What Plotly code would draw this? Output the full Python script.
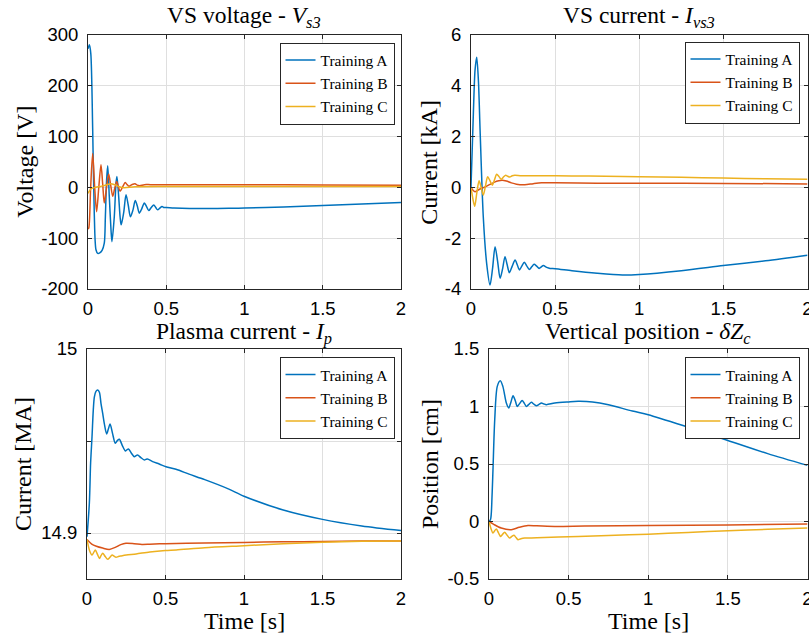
import plotly.graph_objects as go

W, H = 809, 642
C_A, C_B, C_C = "#0072BD", "#D95319", "#EDB120"
SERIF = "Liberation Serif"
SANS = "Liberation Sans"
DARK = "#262626"
GRID = "#dfdfdf"

series_names = ["Training A", "Training B", "Training C"]

# ---------------- VS voltage [V] ----------------
t_volt_A = [0, 0.009, 0.018, 0.03, 0.04, 0.051, 0.062, 0.075, 0.09, 0.104, 0.111, 0.119, 0.126,
            0.136, 0.147, 0.153, 0.168, 0.179, 0.185, 0.196, 0.205, 0.212, 0.228, 0.243, 0.257,
            0.271, 0.287, 0.302, 0.315, 0.328, 0.344, 0.36, 0.374, 0.388, 0.404, 0.42, 0.433,
            0.445, 0.459, 0.473, 0.486, 0.5, 0.55, 0.65, 0.75, 0.9, 1.0, 1.25, 1.5, 1.75, 2.0]
volt_A = [272, 280, 262, 113, -51, -123, -130, -129, -124, -110, -58, 15, 42,
          -18, -84, -107, -58, 8, 21, -18, -58, -74, -50, -15, -35,
          -58, -45, -26, -37, -51, -42, -31, -38, -46, -40, -35, -40,
          -44.5, -41, -38, -40, -40, -41, -42, -42, -41.5, -41, -39, -36, -33, -30]
t_volt_B = [0, 0.005, 0.017, 0.03, 0.043, 0.055, 0.069, 0.083, 0.094, 0.104, 0.118, 0.132, 0.145,
            0.158, 0.17, 0.183, 0.194, 0.205, 0.222, 0.238, 0.25, 0.262, 0.28, 0.3, 0.315, 0.33,
            0.36, 0.4, 0.6, 1.0, 1.5, 2.0]
volt_B = [-82, -80, 0, 66, -2, -48, 0, 44, 6, -31, -2, 26, 4,
          -18, -3, 11, 1, -8, 1, 9, 5, 2, 5, 7, 4, 3,
          5, 5, 5, 5, 4.5, 4]
t_volt_C = [0, 0.02, 0.05, 0.08, 0.11, 0.147, 0.17, 0.2, 0.23, 0.3, 0.5, 1.0, 1.5, 2.0]
volt_C = [-12, -3, 0, 1.5, 4, 7, 5, 1, -1, 1, 1.5, 1.5, 1.5, 1.5]

# ---------------- VS current [kA] ----------------
t_ivs_A = [0, 0.014, 0.024, 0.034, 0.044, 0.054, 0.073, 0.093, 0.113, 0.128, 0.143, 0.158, 0.173,
           0.188, 0.202, 0.215, 0.228, 0.245, 0.262, 0.275, 0.288, 0.302, 0.317, 0.332, 0.347,
           0.361, 0.375, 0.39, 0.405, 0.418, 0.43, 0.45, 0.47, 0.5, 0.6, 0.75, 0.9, 1.0, 1.25,
           1.5, 1.75, 2.0]
ivs_A = [0, 2.9, 4.6, 5.11, 4.2, 2.24, -1.16, -2.99, -3.84, -3.2, -2.34, -2.9, -3.58,
         -3.2, -2.73, -3.05, -3.36, -3.1, -2.86, -3.05, -3.25, -3.1, -2.95, -3.1, -3.23,
         -3.13, -3.03, -3.1, -3.19, -3.13, -3.08, -3.15, -3.19, -3.2, -3.28, -3.38, -3.45, -3.43, -3.28,
         -3.08, -2.89, -2.67]
t_ivs_B = [0, 0.012, 0.024, 0.04, 0.06, 0.08, 0.11, 0.14, 0.165, 0.185, 0.21, 0.24, 0.27, 0.32,
           0.37, 0.42, 0.5, 0.75, 1.0, 1.5, 2.0]
ivs_B = [0, -0.12, -0.18, -0.12, -0.05, 0.0, 0.1, 0.2, 0.25, 0.27, 0.24, 0.17, 0.12, 0.1,
         0.14, 0.17, 0.17, 0.16, 0.16, 0.15, 0.13]
t_ivs_C = [0, 0.011, 0.022, 0.035, 0.048, 0.06, 0.073, 0.086, 0.099, 0.113, 0.127, 0.14, 0.153,
           0.166, 0.18, 0.193, 0.206, 0.218, 0.23, 0.245, 0.26, 0.3, 0.4, 0.6, 0.8, 1.0, 1.25,
           1.5, 1.75, 2.0]
ivs_C = [0, -0.45, -0.75, -0.2, 0.25, 0.0, -0.31, 0.05, 0.41, 0.25, 0.08, 0.3, 0.51,
         0.42, 0.31, 0.4, 0.47, 0.43, 0.40, 0.45, 0.47, 0.45, 0.45, 0.44, 0.43, 0.41, 0.39,
         0.36, 0.33, 0.31]

# ---------------- Plasma current [MA] ----------------
t_ip_A = [0, 0.015, 0.023, 0.032, 0.04, 0.047, 0.057, 0.068, 0.079, 0.089, 0.1, 0.11, 0.125,
          0.136, 0.147, 0.163, 0.18, 0.193, 0.206, 0.225, 0.244, 0.254, 0.264, 0.282, 0.301,
          0.312, 0.322, 0.343, 0.365, 0.375, 0.385, 0.418, 0.46, 0.503, 0.567, 0.65, 0.75,
          0.9, 1.0, 1.25, 1.5, 1.75, 2.0]
ip_A = [14.898, 14.9163, 14.938, 14.9523, 14.9668, 14.974, 14.977, 14.9777, 14.9765, 14.9705,
        14.965, 14.9596, 14.9538, 14.9565, 14.9592, 14.954, 14.9488, 14.9502, 14.951, 14.9475,
        14.9446, 14.9452, 14.9457, 14.9435, 14.9415, 14.942, 14.9424, 14.941, 14.9397, 14.94,
        14.9402, 14.9388, 14.9375, 14.936, 14.9346, 14.932, 14.929, 14.924, 14.920, 14.9125,
        14.9074, 14.9038, 14.9013]
t_ip_B = [0, 0.03, 0.06, 0.1, 0.142, 0.18, 0.215, 0.248, 0.3, 0.35, 0.4, 0.5, 0.75, 1.0, 1.25,
          1.5, 1.75, 2.0]
ip_B = [14.8965, 14.894, 14.8928, 14.8918, 14.8911, 14.8922, 14.8937, 14.8944, 14.8942,
        14.8938, 14.8939, 14.8942, 14.8946, 14.8949, 14.8952, 14.8954, 14.8956, 14.8957]
t_ip_C = [0, 0.016, 0.032, 0.043, 0.053, 0.066, 0.079, 0.09, 0.1, 0.116, 0.132, 0.146, 0.16,
          0.173, 0.185, 0.2, 0.217, 0.25, 0.313, 0.4, 0.5, 0.568, 0.75, 1.0, 1.25, 1.5, 1.75, 2.0]
ip_C = [14.8965, 14.8905, 14.888, 14.8895, 14.8908, 14.8885, 14.8862, 14.8878, 14.889, 14.8872,
        14.8857, 14.8868, 14.888, 14.8874, 14.8868, 14.8872, 14.8875, 14.888, 14.8886, 14.8897,
        14.8905, 14.8908, 14.892, 14.8931, 14.8942, 14.895, 14.8955, 14.8957]

# ---------------- Vertical position [cm] ----------------
t_zc_A = [0, 0.01, 0.019, 0.025, 0.036, 0.052, 0.071, 0.087, 0.109, 0.124, 0.138, 0.151, 0.165,
          0.178, 0.193, 0.208, 0.222, 0.235, 0.25, 0.266, 0.282, 0.298, 0.314, 0.329, 0.345,
          0.36, 0.413, 0.5, 0.56, 0.65, 0.75, 0.9, 1.0, 1.25, 1.5, 1.75, 2.0]
zc_A = [0, 0.02, 0.22, 0.45, 0.885, 1.175, 1.224, 1.175, 1.03, 0.987, 1.04, 1.094, 1.05,
        1.001, 1.027, 1.053, 1.027, 1.001, 1.018, 1.036, 1.02, 1.007, 1.018, 1.03, 1.022,
        1.016, 1.03, 1.04, 1.045, 1.04, 1.016, 0.96, 0.929, 0.82, 0.705, 0.59, 0.488]
t_zc_B = [0, 0.03, 0.077, 0.14, 0.19, 0.245, 0.3, 0.413, 0.6, 1.0, 1.5, 2.0]
zc_B = [0, -0.025, -0.057, -0.071, -0.05, -0.034, -0.038, -0.043, -0.04, -0.035, -0.03, -0.022]
t_zc_C = [0, 0.012, 0.025, 0.036, 0.046, 0.06, 0.073, 0.086, 0.098, 0.114, 0.13, 0.143, 0.157,
          0.17, 0.182, 0.2, 0.224, 0.3, 0.56, 0.75, 1.0, 1.25, 1.5, 1.75, 2.0]
zc_C = [0, -0.06, -0.1, -0.08, -0.065, -0.1, -0.13, -0.11, -0.093, -0.12, -0.144, -0.13, -0.12,
        -0.14, -0.158, -0.15, -0.144, -0.142, -0.13, -0.122, -0.11, -0.095, -0.08, -0.068, -0.057]

# ---------------- ticks ----------------
x_ticks = [0, 0.5, 1, 1.5, 2]
x_tick_text = ["0", "0.5", "1", "1.5", "2"]
volt_ticks = [-200, -100, 0, 100, 200, 300]
ivs_ticks = [-4, -2, 0, 2, 4, 6]
ip_ticks = [14.9, 15]
ip_tick_text = ["14.9", "15"]
ip_minor_ticks = [14.95]
zc_ticks = [-0.5, 0, 0.5, 1, 1.5]
zc_tick_text = ["-0.5", "0", "0.5", "1", "1.5"]

titles = ["VS voltage - <i>V</i><sub><i>s3</i></sub>",
          "VS current - <i>I</i><sub><i>vs3</i></sub>",
          "Plasma current - <i>I</i><sub><i>p</i></sub>",
          "Vertical position - <i>δZ</i><sub><i>c</i></sub>"]
ylabels = ["Voltage [V]", "Current [kA]", "Current [MA]", "Position [cm]"]
xlabel = "Time [s]"

panels = [
    dict(data=[(t_volt_A, volt_A), (t_volt_B, volt_B), (t_volt_C, volt_C)],
         xd=(88, 401), yd=(34.5, 289), yr=[-200, 300], yt=volt_ticks,
         ytt=[str(v) for v in volt_ticks], minor=None, ylab_x=25, leg=(394.5, 42.5)),
    dict(data=[(t_ivs_A, ivs_A), (t_ivs_B, ivs_B), (t_ivs_C, ivs_C)],
         xd=(471, 807.5), yd=(34.5, 289), yr=[-4, 6], yt=ivs_ticks,
         ytt=[str(v) for v in ivs_ticks], minor=None, ylab_x=429, leg=(799.5, 41.5)),
    dict(data=[(t_ip_A, ip_A), (t_ip_B, ip_B), (t_ip_C, ip_C)],
         xd=(87, 401), yd=(349, 579), yr=[14.875, 15], yt=ip_ticks,
         ytt=ip_tick_text, minor=ip_minor_ticks, ylab_x=23, leg=(394.5, 357)),
    dict(data=[(t_zc_A, zc_A), (t_zc_B, zc_B), (t_zc_C, zc_C)],
         xd=(489, 807.5), yd=(349, 579), yr=[-0.5, 1.5], yt=zc_ticks,
         ytt=zc_tick_text, minor=None, ylab_x=430, leg=(799.5, 357)),
]

fig = go.Figure()
colors = [C_A, C_B, C_C]
layout = dict(width=W, height=H, autosize=False, margin=dict(l=0, r=0, t=0, b=0, pad=0),
              paper_bgcolor="white", plot_bgcolor="white", showlegend=True)
annotations = []

for i, p in enumerate(panels):
    n = "" if i == 0 else str(i + 1)
    legname = "legend" + n
    for (tt, vv), name, col in zip(p["data"], series_names, colors):
        fig.add_trace(go.Scatter(x=tt, y=vv, name=name, mode="lines",
                                 line=dict(color=col, width=1.5, shape="spline", smoothing=0.8),
                                 xaxis="x" + n, yaxis="y" + n, legend=legname,
                                 hoverinfo="skip"))
    x0, x1 = p["xd"]
    ytop, ybot = p["yd"]
    axis_common = dict(showline=True, mirror="ticks", linecolor=DARK, linewidth=1,
                       ticks="inside", ticklen=4, tickcolor=DARK, tickwidth=1,
                       showgrid=True, gridcolor=GRID, gridwidth=1, zeroline=False,
                       automargin=False, ticklabeloverflow="allow",
                       tickfont=dict(family=SANS, size=18.5, color="black"))
    layout["xaxis" + n] = dict(axis_common, domain=[x0 / W, x1 / W], range=[0, 2],
                               tickvals=x_ticks, ticktext=x_tick_text,
                               anchor="y" + n, ticklabelstandoff=3)
    yax = dict(axis_common, domain=[1 - ybot / H, 1 - ytop / H],
               range=p["yr"], tickvals=p["yt"], ticktext=p["ytt"],
               anchor="x" + n, ticklabelstandoff=5)
    if p["minor"]:
        yax["minor"] = dict(tickvals=p["minor"], ticks="inside", ticklen=4, tickcolor=DARK,
                            showgrid=True, gridcolor=GRID, gridwidth=1)
    layout["yaxis" + n] = yax
    lx, ly = p["leg"]
    layout[legname] = dict(x=lx / W, y=1 - ly / H, xanchor="right", yanchor="top",
                           bgcolor="white", bordercolor=DARK, borderwidth=1,
                           font=dict(family=SERIF, size=15.5, color="black"),
                           tracegroupgap=0, itemwidth=30)
    xc = (x0 + x1) / 2
    top_title_y = 17 if i < 2 else 333
    annotations.append(dict(text=titles[i], x=xc / W, y=1 - top_title_y / H,
                            xref="paper", yref="paper", showarrow=False,
                            xanchor="center", yanchor="middle",
                            font=dict(family=SERIF, size=23.5, color="black")))
    annotations.append(dict(text=ylabels[i], x=p["ylab_x"] / W, y=1 - ((ytop + ybot) / 2) / H,
                            xref="paper", yref="paper", showarrow=False, textangle=-90,
                            xanchor="center", yanchor="middle",
                            font=dict(family=SERIF, size=24, color="black")))
    if i >= 2:
        annotations.append(dict(text=xlabel, x=xc / W, y=1 - 621 / H,
                                xref="paper", yref="paper", showarrow=False,
                                xanchor="center", yanchor="middle",
                                font=dict(family=SERIF, size=24, color="black")))

layout["annotations"] = annotations
fig.update_layout(**layout)

fig.write_html("out.html",
               config=dict(displayModeBar=False, responsive=False),
               post_script="document.documentElement.style.margin='0';"
                           "document.body.style.margin='0';"
                           "document.body.style.padding='0';"
                           "document.body.style.overflow='hidden';")
